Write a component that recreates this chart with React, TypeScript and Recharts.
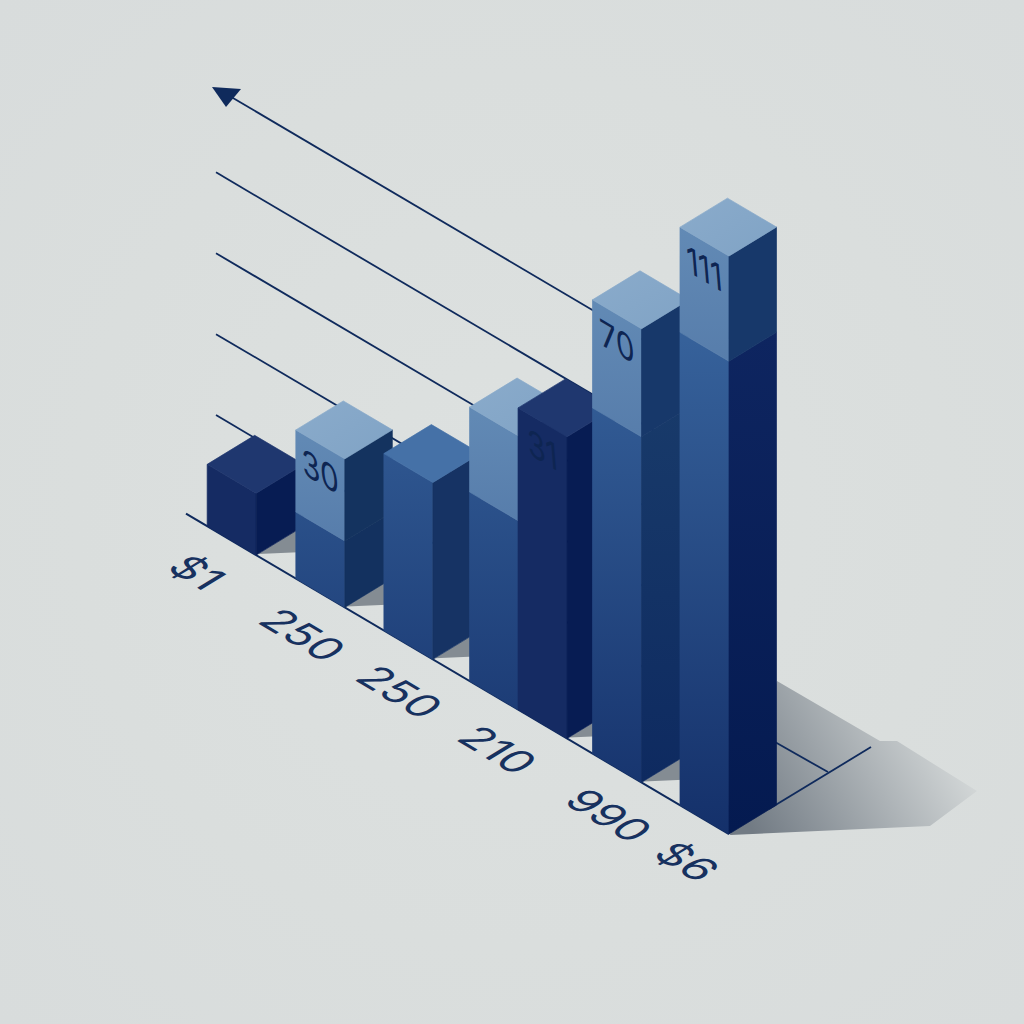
import { BarChart, Bar, XAxis, YAxis, CartesianGrid } from 'recharts';

// bar data (height in % of the tallest bar)
const barPositions = [7.8, 22.8, 37.7, 52.2, 60.4, 73.0, 87.8];
const barValues = [10.7, 25.7, 30.6, 47.4, 52.2, 78.5, 100];
const capValues = [0, 14.2, 0, 14.7, 0, 18.7, 18.2];
const barLabels = ['', '30', '', '', '31', '70', '111'];

const tickPositions = [1.9, 19.8, 36.2, 52.8, 71.6, 84.8];
const tickLabels = ['$1', '250', '250', '210', '990', '$6'];
const gridValues = [0, 14, 28, 42, 56, 70.6];

const data = barValues.map((value, i) => ({
  pos: barPositions[i],
  value,
  cap: capValues[i],
  label: barLabels[i],
}));

// isometric projection
const SLOPE = 0.59;
const FACE_W = 49;
const DEPTH_X = 47.5;
const DEPTH_Y = 29;
const PLOT_BOTTOM = 778;
const BACK_SHIFT = -35.4;
const INK = '#0f2a5c';

const floorY = (x: number) => 555 + SLOPE * (x - 256);
const lift = (x: number, y: number) => y + floorY(x) - PLOT_BOTTOM;
const pts = (list: number[][]) => list.map((p) => p.join(',')).join(' ');

const tones: Record<string, any> = {
  dark: { top: '#1f376f', left: '#152b63', right: '#071c53' },
  mid: { top: '#4571a7', left: 'url(#lowerLeft)', right: '#163364' },
  pale: { top: 'url(#capTop)', left: 'url(#lowerLeft)', right: '#13315f', capLeft: 'url(#capLeft)', capRight: '#14335f' },
  tall: { top: 'url(#capTop)', left: 'url(#lowerLeft)', right: 'url(#lowerRight)', capLeft: 'url(#capLeft)', capRight: '#17386a' },
  tallest: { top: 'url(#capTop)', left: 'url(#lowerLeft)', right: 'url(#deepRight)', capLeft: 'url(#capLeft)', capRight: '#17386a' },
};
const barTones = ['dark', 'pale', 'mid', 'pale', 'dark', 'tall', 'tallest'];

function Face({ fill, points }: { fill: string; points: number[][] }) {
  // the thin stroke closes the seams between neighbouring faces
  return <polygon fill={fill} stroke={fill} strokeWidth={0.7} strokeLinejoin="round" points={pts(points)} />;
}

function IsoBar(props: any) {
  const { x: rawX, y, width: rawW, height, index, payload } = props;
  const tone = tones[barTones[index]];
  const x = rawX + rawW / 2 - FACE_W / 2;
  const width = FACE_W;
  const fx = x + width;
  const baseY = lift(fx, y + height);
  const topY = lift(fx, y);
  const capH = payload.value ? (height * payload.cap) / payload.value : 0;
  const splitY = topY + capH;
  const isLast = index === barValues.length - 1;
  const rise = width * SLOPE;

  return (
    <g>
      {isLast ? (
        <g>
          <polygon
            fill="url(#groundShadow)"
            points={pts([
              [fx + 48, baseY - 153],
              [fx + 151, baseY - 93],
              [fx + 168, baseY - 93],
              [fx + 248, baseY - 43],
              [fx + 201, baseY - 8],
              [fx + 1, baseY + 1],
            ])}
          />
          <line x1={fx + 46} y1={baseY - 92} x2={fx + 99} y2={baseY - 62} stroke={INK} strokeWidth={1.8} />
          <line x1={fx + 40} y1={baseY - 25} x2={fx + 142} y2={baseY - 87} stroke={INK} strokeWidth={1.8} />
        </g>
      ) : (
        <polygon
          fill="#848c93"
          points={pts([
            [fx + 2, baseY - 1],
            [fx + DEPTH_X, baseY - DEPTH_Y],
            [fx + DEPTH_X, baseY - 3],
          ])}
        />
      )}
      {/* left face */}
      <Face
        fill={tone.left}
        points={[
          [x, splitY - rise],
          [fx, splitY],
          [fx, baseY],
          [x, baseY - rise],
        ]}
      />
      {capH > 0 && (
        <Face
          fill={tone.capLeft}
          points={[
            [x, topY - rise],
            [fx, topY],
            [fx, splitY],
            [x, splitY - rise],
          ]}
        />
      )}
      {/* right face */}
      <Face
        fill={tone.right}
        points={[
          [fx, splitY],
          [fx + DEPTH_X, splitY - DEPTH_Y],
          [fx + DEPTH_X, baseY - DEPTH_Y],
          [fx, baseY],
        ]}
      />
      {capH > 0 && (
        <Face
          fill={tone.capRight}
          points={[
            [fx, topY],
            [fx + DEPTH_X, topY - DEPTH_Y],
            [fx + DEPTH_X, splitY - DEPTH_Y],
            [fx, splitY],
          ]}
        />
      )}
      {/* top face */}
      <Face
        fill={tone.top}
        points={[
          [fx, topY],
          [fx + DEPTH_X, topY - DEPTH_Y],
          [fx + DEPTH_X - width, topY - DEPTH_Y - rise],
          [x, topY - rise],
        ]}
      />
      {payload.label && (
        <text
          transform={`matrix(0.95,${SLOPE * 0.95},0.1,1.2,${x + width / 2},${topY - rise / 2 + 27})`}
          textAnchor="middle"
          dominantBaseline="central"
          fontFamily="Inter"
          fontSize={31}
          fill="#0e2552"
        >
          {payload.label}
        </text>
      )}
    </g>
  );
}

function FloorTick(props: any) {
  const { x, index } = props;
  return (
    <text
      transform={`matrix(0.866,0.52,-0.82,0.5,${x},${floorY(x) + 52})`}
      textAnchor="middle"
      dominantBaseline="central"
      fontFamily="Inter"
      fontSize={43}
      fill="#17315f"
    >
      {tickLabels[index]}
    </text>
  );
}

function GridRow(props: any) {
  const { y1 } = props;
  if (y1 >= PLOT_BOTTOM - 0.5) {
    return <line x1={186} y1={floorY(186)} x2={729} y2={floorY(729)} stroke={INK} strokeWidth={2} />;
  }
  const start = 216;
  const end = 700;
  const isTop = y1 < 400;
  const sy = lift(start, y1) + BACK_SHIFT;
  const ey = lift(end, y1) + BACK_SHIFT;
  return (
    <g>
      <line x1={start + (isTop ? 14 : 0)} y1={sy + (isTop ? 14 * SLOPE : 0)} x2={end} y2={ey} stroke={INK} strokeWidth={1.8} />
      {isTop && (
        <polygon
          fill={INK}
          points={pts([
            [start - 4, sy - 1],
            [start + 25, sy + 1],
            [start + 10, sy + 19],
          ])}
        />
      )}
    </g>
  );
}

export default function App() {
  return (
    <div
      style={{
        position: 'absolute',
        left: 0,
        top: 0,
        width: 1024,
        height: 1024,
        background: 'radial-gradient(circle at 50% 50%, #dde1e0 0%, #dadedd 60%, #d8dcdc 100%)',
      }}
    >
      <BarChart width={1024} height={1024} data={data} margin={{ top: 200, right: 247, bottom: 245, left: 186 }}>
        <defs>
          <linearGradient id="lowerLeft" gradientUnits="userSpaceOnUse" x1="0" y1="340" x2="0" y2="835">
            <stop offset="0%" stopColor="#36619a" />
            <stop offset="100%" stopColor="#14306a" />
          </linearGradient>
          <linearGradient id="capLeft" x1="0" y1="0" x2="0" y2="1">
            <stop offset="0%" stopColor="#628ab5" />
            <stop offset="100%" stopColor="#577dab" />
          </linearGradient>
          <linearGradient id="capTop" x1="0" y1="0" x2="1" y2="1">
            <stop offset="0%" stopColor="#8aabcb" />
            <stop offset="100%" stopColor="#80a3c5" />
          </linearGradient>
          <linearGradient id="lowerRight" x1="0" y1="0" x2="0" y2="1">
            <stop offset="0%" stopColor="#183a6a" />
            <stop offset="100%" stopColor="#0e2a60" />
          </linearGradient>
          <linearGradient id="deepRight" x1="0" y1="0" x2="0" y2="1">
            <stop offset="0%" stopColor="#0e2560" />
            <stop offset="100%" stopColor="#041a50" />
          </linearGradient>
          <linearGradient id="groundShadow" gradientUnits="userSpaceOnUse" x1="755" y1="835" x2="950" y2="725">
            <stop offset="0%" stopColor="#727b84" />
            <stop offset="100%" stopColor="#d6dada" />
          </linearGradient>
        </defs>
        <CartesianGrid vertical={false} horizontalValues={gridValues} horizontal={(p: any) => <GridRow key={p.key ?? p.y1} {...p} />} />
        <XAxis
          dataKey="pos"
          type="number"
          scale="linear"
          domain={[0, 100]}
          ticks={tickPositions}
          interval={0}
          height={1}
          axisLine={false}
          tickLine={false}
          tick={(p: any) => <FloorTick key={p.index} {...p} />}
        />
        <YAxis hide domain={[0, 100]} />
        <Bar dataKey="value" barSize={49} isAnimationActive={false} shape={(p: any) => <IsoBar key={p.index} {...p} />} />
      </BarChart>
    </div>
  );
}
